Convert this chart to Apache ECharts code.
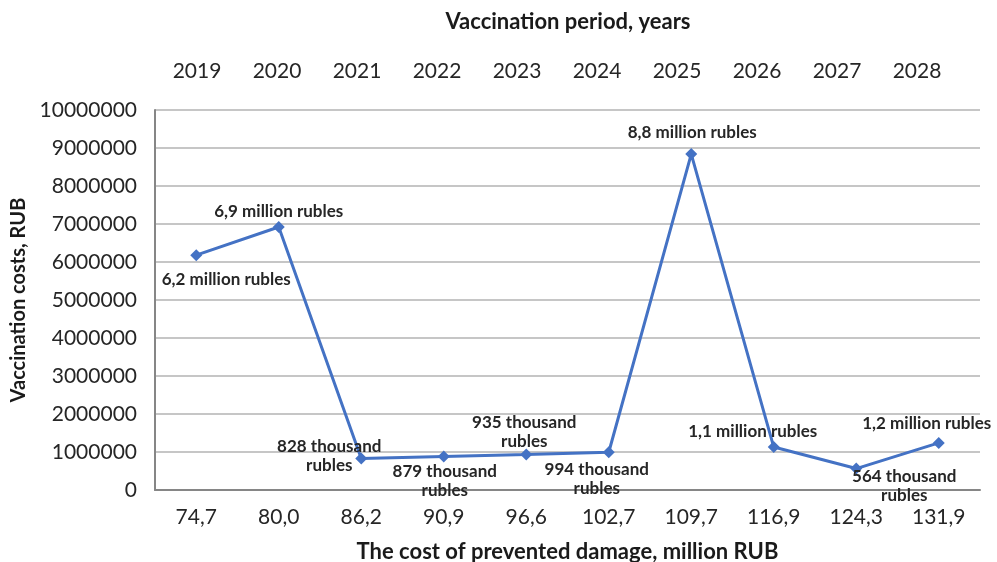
<!DOCTYPE html>
<html>
<head>
<meta charset="utf-8">
<script src="https://cdn.jsdelivr.net/npm/echarts@6/dist/echarts.min.js"></script>
<style>
  html, body { margin: 0; padding: 0; background: #fff; }
  #chart { width: 997px; height: 562px; }
</style>
</head>
<body>
<div id="chart"></div>
<script>
// Prevented damage (million RUB) for each vaccination year
const damageCategories = ['74,7', '80,0', '86,2', '90,9', '96,6', '102,7', '109,7', '116,9', '124,3', '131,9'];
const years = ['2019', '2020', '2021', '2022', '2023', '2024', '2025', '2026', '2027', '2028'];
// Vaccination costs, RUB
const vaccinationCosts = [6180000, 6920000, 828000, 879000, 935000, 994000, 8840000, 1130000, 564000, 1240000];
const yTicks = { min: 0, max: 10000000, interval: 1000000 };

const FONT = 'Lato';
const BLUE = '#4472C4';

function costLabel(v) {
  if (v >= 1000000) {
    return (v / 1000000).toFixed(1).replace('.', ',') + ' million rubles';
  }
  return Math.round(v / 1000) + ' thousand\nrubles';
}

// label centre relative to each marker, px
const labelOffsets = [
  [30, 24], [0, -16], [-32, -3], [1, 24], [-2, -22],
  [-12, 27], [1, -22], [-21, -16], [48, 17], [-12, -19]
];

const seriesData = vaccinationCosts.map((v, i) => ({
  value: v,
  label: { show: true, position: 'inside', formatter: costLabel(v), offset: labelOffsets[i] }
}));

const chart = echarts.init(document.getElementById('chart'), null, { renderer: 'canvas' });

chart.setOption({
  backgroundColor: '#ffffff',
  animation: false,
  title: {
    text: 'Vaccination period, years',
    left: 563,
    textAlign: 'center',
    top: 6,
    textStyle: { fontFamily: FONT, fontSize: 22, fontWeight: 'bold', color: '#1a1a1a' }
  },
  grid: [
    { left: 155, right: 17, top: 110, bottom: 72, outerBoundsMode: 'none', containLabel: false },
    { left: 157, right: 40, top: 110, bottom: 72, outerBoundsMode: 'none', containLabel: false }
  ],
  xAxis: [
    {
      type: 'category',
      gridIndex: 0,
      data: damageCategories,
      boundaryGap: true,
      name: 'The cost of prevented damage, million RUB',
      nameLocation: 'middle',
      nameGap: 51,
      nameTextStyle: { fontFamily: FONT, fontSize: 22, fontWeight: 'bold', color: '#1a1a1a' },
      axisLine: { show: true, lineStyle: { color: '#868686', width: 2 } },
      axisTick: { show: false },
      axisLabel: { fontFamily: FONT, fontSize: 21, color: '#262626', margin: 17 },
      splitLine: { show: false }
    },
    {
      type: 'category',
      gridIndex: 1,
      position: 'top',
      data: years,
      boundaryGap: true,
      axisLine: { show: false },
      axisTick: { show: false },
      axisLabel: { fontFamily: FONT, fontSize: 21, color: '#262626', margin: 28 },
      splitLine: { show: false }
    }
  ],
  yAxis: [
    {
      type: 'value',
      gridIndex: 0,
      min: yTicks.min,
      max: yTicks.max,
      interval: yTicks.interval,
      name: 'Vaccination costs, RUB',
      nameLocation: 'middle',
      nameGap: 126,
      nameTextStyle: { fontFamily: FONT, fontSize: 20, fontWeight: 'bold', color: '#1a1a1a' },
      axisLine: { show: true, lineStyle: { color: '#868686', width: 2 } },
      axisTick: { show: false },
      axisLabel: {
        fontFamily: FONT, fontSize: 21, color: '#262626', margin: 18,
        formatter: (v) => String(v)
      },
      splitLine: { show: true, lineStyle: { color: '#b3b3b3', width: 1.5 } }
    },
    {
      type: 'value',
      gridIndex: 1,
      min: yTicks.min,
      max: yTicks.max,
      show: false
    }
  ],
  series: [
    {
      type: 'line',
      xAxisIndex: 0,
      yAxisIndex: 0,
      data: seriesData,
      symbol: 'diamond',
      symbolSize: 12,
      lineStyle: { color: BLUE, width: 3 },
      itemStyle: { color: BLUE },
      label: {
        show: true,
        fontFamily: FONT,
        fontSize: 17,
        fontWeight: 'bold',
        color: '#262626',
        lineHeight: 19,
        align: 'center',
        verticalAlign: 'middle'
      },
      z: 3
    }
  ]
});
</script>
</body>
</html>
